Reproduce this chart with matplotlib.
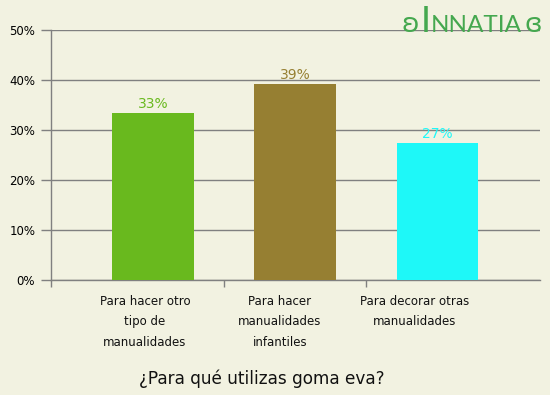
import matplotlib
matplotlib.use("Agg")
import matplotlib.pyplot as plt
from matplotlib.ticker import FuncFormatter

# datos
categorias = ["Para hacer otro\ntipo de\nmanualidades",
              "Para hacer\nmanualidades\ninfantiles",
              "Para decorar otras\nmanualidades"]
valores = [33.5, 39.3, 27.5]
etiquetas = ["33%", "39%", "27%"]
colores = ["#69b91e", "#967f32", "#1ef8f8"]
yticks = [0, 10, 20, 30, 40, 50]

fondo = "#f2f2e1"
gris = "#808080"
verde_logo = "#45a84f"

fig = plt.figure(figsize=(5.5, 3.95), dpi=100, facecolor=fondo)
ax = fig.add_axes([50.5 / 550, 1 - 280.3 / 395, (540 - 50.5) / 550, 250.3 / 395])
ax.set_facecolor(fondo)

x = list(range(len(categorias)))
ax.bar(x, valores, width=0.575, color=colores, zorder=3)
for xi, v, t, c in zip(x, valores, etiquetas, colores):
    ax.text(xi, v + 0.3, t, ha="center", va="bottom", color=c, fontsize=10, zorder=4)

ax.set_xlim(-0.72, 2.72)
ax.set_ylim(0, 50)
ax.set_yticks(yticks)
ax.yaxis.set_major_formatter(FuncFormatter(lambda v, p: f"{int(v)}%"))
ax.grid(axis="y", color=gris, linewidth=1, zorder=1)

ax.set_xticks([-0.72, 0.5, 1.5])
ax.set_xticklabels([])
ax.tick_params(axis="x", length=5, color=gris, width=1)
ax.tick_params(axis="y", length=7, color=gris, width=1, labelsize=8.5, pad=4)

for s in ["top", "right"]:
    ax.spines[s].set_visible(False)
for s in ["left", "bottom"]:
    ax.spines[s].set_color(gris)
    ax.spines[s].set_linewidth(1)

# en el original las etiquetas no quedan centradas bajo las barras
for i, cat in enumerate(categorias):
    ax.text(i * 0.947 - 0.056, -2.9, cat, ha="center", va="top", fontsize=8.5,
            linespacing=1.75, color="#111111")

fig.text(262 / 550, 1 - 379 / 395, "¿Para qué utilizas goma eva?", ha="center", va="center",
         fontsize=12.2, color="#111111")

# logo
base = 1 - 32 / 395
fig.text(419 / 550, base, "ʚ", ha="right", va="baseline", fontsize=19,
         color=verde_logo, family="DejaVu Sans")
fig.text(421 / 550, base, "I", ha="left", va="baseline", fontsize=26,
         color=verde_logo, family="Lato")
fig.text(431 / 550, base, "NNATIA", ha="left", va="baseline", fontsize=17.5,
         color=verde_logo, family="Lato")
fig.text(524 / 550, base, "ɞ", ha="left", va="baseline", fontsize=19,
         color=verde_logo, family="DejaVu Sans")

fig.savefig("out.png", dpi=100, facecolor=fondo)
